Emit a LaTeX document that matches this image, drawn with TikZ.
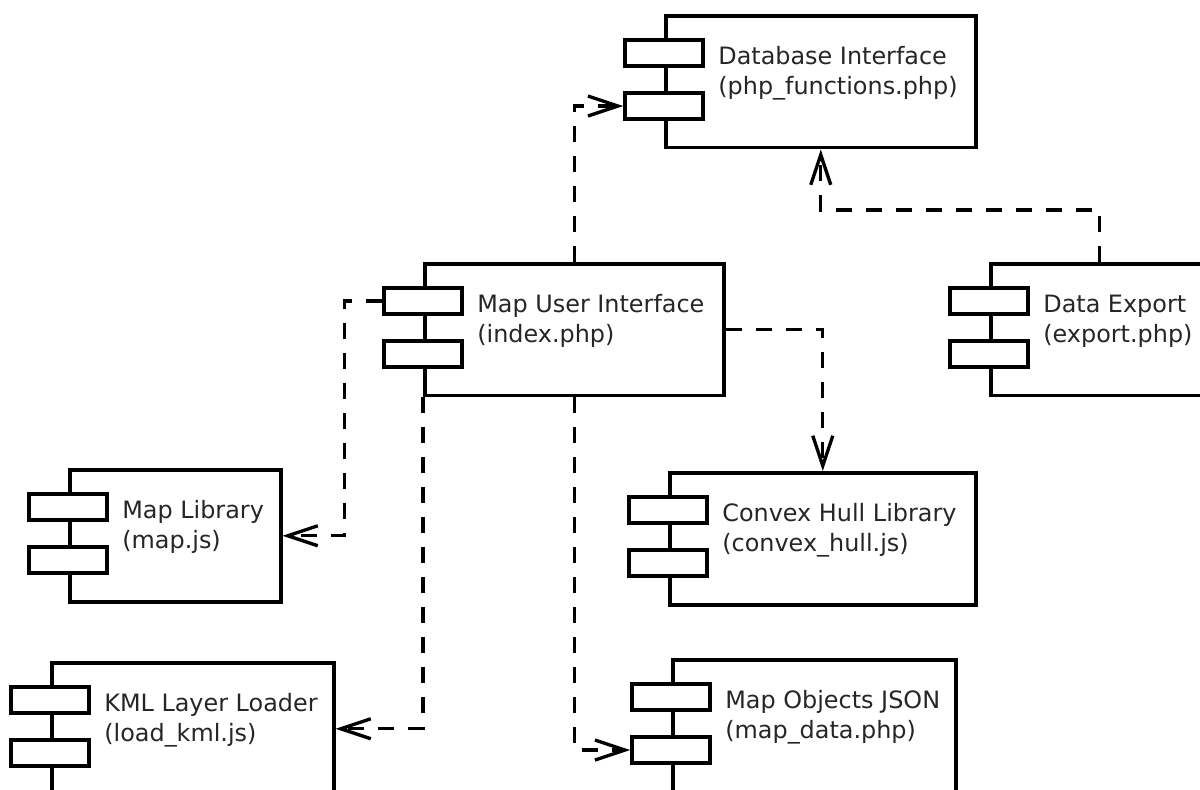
\documentclass[tikz,border=0pt]{standalone}
\usepackage{fontspec}
\setmainfont{DejaVu Sans}
\usetikzlibrary{arrows.meta,calc,positioning}
\tikzset{>={Straight Barb[length=0.6cm,width=0.4cm]}}
\tikzset{
  comp/.style={draw, line width=2pt, fill=white, inner sep=0pt,
    minimum height=2.64cm, anchor=north west},
  tab/.style={draw, line width=2pt, fill=white, inner sep=0pt,
    minimum width=1.56cm, minimum height=0.52cm},
  lbl/.style={anchor=base west, inner sep=0pt,
    font=\fontsize{13.6}{16}\selectfont, text=black!85},
  dep/.style={->, line width=1.9pt, dash pattern=on 0.32cm off 0.28cm}
}

\begin{document}
\begin{tikzpicture}[x=0.02cm, y=-0.02cm]
  \clip (0,0) rectangle (1200,789);
  % components
  \foreach \nm/\x/\y/\w/\ta/\tb in {
      db/664/14/310/Database Interface/(php\_functions.php),
      mui/423/262/299/Map User Interface/(index.php),
      de/989/262/218/Data Export/(export.php),
      ch/668/471/306/Convex Hull Library/(convex\_hull.js),
      ml/68/468/211/Map Library/(map.js),
      kml/50/661/282/KML Layer Loader/(load\_kml.js),
      mo/671/658/283/Map Objects JSON/(map\_data.php)}
  {
    \node[comp, minimum width=\w*0.02cm] (\nm) at (\x,\y) {};
    \node[tab] (\nm-t1) at ($(\nm.north west)+(0,39)$) {};
    \node[tab] (\nm-t2) at ($(\nm.north west)+(0,92)$) {};
    \node[lbl] (\nm-l1) at ($(\nm.north west)+(54,50)$) {\ta};
    \node[lbl] (\nm-l2) at ($(\nm.north west)+(54,80)$) {\tb};
  }
  % dependencies
  \draw[dep] (mui.north) |- (db-t2.west);
  \draw[dep] (de.north) -- ++(0,-52) -| (db.south);
  \draw[dep] (mui.east) -| (ch.north);
  \draw[dep] (mui-t1.west) -- ++(-38,0) |- (ml.east);
  \draw[dep] (mui.south west) |- (kml.east);
  \draw[dep] (mui.south) |- (mo-t2.west);
\end{tikzpicture}
\end{document}
